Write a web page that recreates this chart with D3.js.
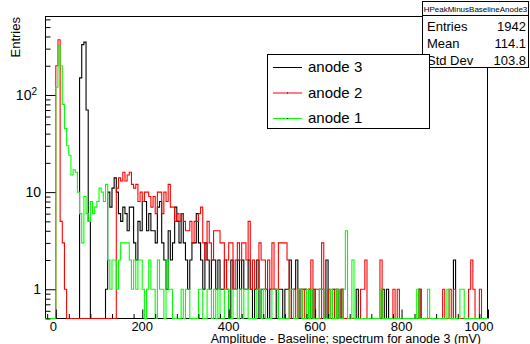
<!DOCTYPE html>
<html>
<head>
<meta charset="utf-8">
<script src="https://cdn.jsdelivr.net/npm/d3@7/dist/d3.min.js"></script>
<style>
  body { margin: 0; background: #fff; }
  svg { display: block; font-family: "Liberation Sans", Arial, Helvetica, sans-serif; }
</style>
</head>
<body>
<svg id="chart" width="530" height="344"></svg>
<script>
// histogram binning (mV)
const binLow = -25;
const binWidth = 5;

// counts per bin
const anode3 = [
  0,0,0,0,0,0,0,0,0,0,
  0,0,0,0,0,0,150,330,350,70,
  5,0,0,0,0,0,0,0,1,10,
  7,11,14,10,6,5,7,6,4,7,
  7,3,2,5,4,8,8,4,6,4,
  4,3,7,8,3,2,1,4,2,3,
  7,5,3,6,3,2,1,2,3,3,
  6,3,2,1,3,2,1,2,2,1,
  2,1,1,2,1,0,2,1,1,2,
  1,2,1,1,2,1,0,1,2,0,
  1,1,1,0,1,1,1,0,1,1,
  0,1,1,2,0,1,2,0,1,1,
  1,0,1,0,1,0,0,1,1,0,
  2,0,0,1,0,1,0,1,0,0,
  0,0,0,0,1,0,0,0,0,0,
  0,0,0,0,0,0,1,0,1,0,
  0,0,0,0,0,0,0,0,0,0,
  0,0,0,1,0,0,0,0,0,0,
  0,0,0,0,0,0,0,0,0,2,
  0,0,0,0,0,0,0,0,0,0,
  0,0,0,0,0
];
const anode2 = [
  0,0,0,0,0,200,370,5,3,1,
  0,0,0,0,0,0,0,0,0,0,
  0,0,0,0,0,0,0,0,0,0,
  0,0,0,11,14,13,16,13,15,16,
  12,11,12,8,10,8,10,10,9,7,
  9,6,10,10,6,10,8,12,7,7,
  5,6,5,6,5,4,4,5,3,5,
  5,6,7,3,2,5,3,2,4,4,
  4,3,3,1,2,3,3,1,2,3,
  2,3,3,2,5,1,2,1,1,3,
  2,2,1,2,1,3,1,1,3,3,
  3,3,2,0,1,1,0,1,1,0,
  1,0,1,2,0,1,1,0,3,0,
  0,1,0,0,1,0,0,1,0,0,
  0,0,0,0,0,0,1,1,2,0,
  0,0,0,0,0,2,0,0,0,0,
  0,1,0,1,0,0,0,0,0,0,
  0,0,0,1,0,0,0,0,0,0,
  0,0,0,0,1,0,0,1,0,1,
  0,0,0,0,0,0,1,2,1,0,
  0,1,0,0,0
];
const anode1 = [
  0,0,0,0,0,120,320,200,80,45,
  30,24,15,17,16,10,6,3,9,6,
  5,8,6,7,8,11,10,8,12,2,
  1,2,2,1,2,3,3,3,3,2,
  1,2,1,2,2,1,0,1,2,1,
  1,0,2,1,1,0,2,1,1,0,
  0,0,0,1,0,1,1,0,0,0,
  0,1,1,0,0,1,1,0,1,0,
  1,0,0,1,1,0,0,1,1,0,
  1,0,1,1,0,0,0,0,1,1,
  0,1,0,0,0,1,1,1,0,0,
  0,0,0,1,1,0,0,1,1,0,
  0,1,0,1,0,0,0,1,1,0,
  0,0,1,0,0,1,0,0,1,4,
  0,0,2,0,0,0,0,0,0,0,
  0,0,0,0,0,1,0,0,0,0,
  0,0,0,0,0,0,0,0,0,0,
  0,0,1,0,0,0,0,1,0,0,
  0,0,0,0,0,0,1,0,0,0,
  0,0,1,1,0,0,0,0,0,0,
  0,0,0,0,0
];

const seriesNames = ["anode 3", "anode 2", "anode 1"];
const seriesColors = ["#000000", "#ff0000", "#00ff00"];
const xMajorTicks = [0, 200, 400, 600, 800, 1000];
const yMajorTicks = [1, 10, 100];
const yTickLabels = ["1", "10", "10|2"];
const statsTitle = "HPeakMinusBaselineAnode3";
const statsLabels = ["Entries", "Mean", "Std Dev"];
const statsValues = ["1942", "114.1", "103.8"];
const xTitle = "Amplitude - Baseline; spectrum for anode 3 (mV)";
const yTitle = "Entries";

const svg = d3.select("#chart");
const frame = { left: 45, top: 16, right: 488, bottom: 318.5 };

const x = d3.scaleLinear()
  .domain([binLow, binLow + binWidth * anode3.length])
  .range([frame.left, frame.right]);
const y = d3.scaleLog()
  .domain([0.5, 650])
  .range([frame.bottom, frame.top]);

svg.append("defs").append("clipPath").attr("id", "clip")
  .append("rect")
  .attr("x", frame.left).attr("y", frame.top)
  .attr("width", frame.right - frame.left)
  .attr("height", frame.bottom - frame.top + 1);

// frame
svg.append("rect")
  .attr("x", frame.left + 0.5).attr("y", frame.top + 0.5)
  .attr("width", frame.right - frame.left - 1)
  .attr("height", frame.bottom - frame.top - 0.5)
  .attr("fill", "none").attr("stroke", "#000");

const stepLine = d3.line()
  .x(d => x(d[0]))
  .y(d => y(Math.max(d[1], 0.5)))
  .curve(d3.curveStepAfter);

function histPoints(counts) {
  const pts = counts.map((c, i) => [binLow + i * binWidth, c]);
  pts.push([binLow + counts.length * binWidth, counts[counts.length - 1]]);
  return pts;
}

const plot = svg.append("g").attr("clip-path", "url(#clip)");

function drawHist(counts, color) {
  plot.append("path")
    .attr("d", stepLine(histPoints(counts)))
    .attr("fill", "none")
    .attr("stroke", color)
    .attr("stroke-width", 1.1);
}

drawHist(anode3, seriesColors[0]);

// axes: ticks pointing into the frame
const xMinor = d3.range(-20, 1001, 50).filter(v => v % 200 !== 0);
const yMinor = [];
[0.1, 1, 10, 100].forEach(d => {
  for (let k = 2; k <= 9; k++) {
    const v = d * k;
    if (v >= 0.5 && v <= 650) yMinor.push(v);
  }
});

const xAxisMajor = svg.append("g")
  .attr("transform", `translate(0,${frame.bottom})`)
  .call(d3.axisBottom(x).tickValues(xMajorTicks).tickSize(-9).tickFormat(""));
const xAxisMinor = svg.append("g")
  .attr("transform", `translate(0,${frame.bottom})`)
  .call(d3.axisBottom(x).tickValues(xMinor).tickSize(-4.5).tickFormat(""));
const yAxisMajor = svg.append("g")
  .attr("transform", `translate(${frame.left + 0.5},0)`)
  .call(d3.axisLeft(y).tickValues(yMajorTicks).tickSize(-10).tickFormat(""));
const yAxisMinor = svg.append("g")
  .attr("transform", `translate(${frame.left + 0.5},0)`)
  .call(d3.axisLeft(y).tickValues(yMinor).tickSize(-5).tickFormat(""));
[xAxisMajor, xAxisMinor, yAxisMajor, yAxisMinor].forEach(g => {
  g.select(".domain").remove();
  g.selectAll("line").attr("stroke", "#000");
});

drawHist(anode2, seriesColors[1]);
drawHist(anode1, seriesColors[2]);

// tick labels
svg.append("g").selectAll("text")
  .data(xMajorTicks)
  .join("text")
  .attr("x", (d, i) => x(d) + (i === 0 ? -2.5 : (i === xMajorTicks.length - 1 ? -9 : 0)))
  .attr("y", 331)
  .attr("text-anchor", "middle")
  .attr("font-size", 13)
  .text(d => d);

const yLab = svg.append("g").selectAll("text")
  .data(yMajorTicks)
  .join("text")
  .attr("x", 41)
  .attr("y", d => y(d))
  .attr("dy", "0.36em")
  .attr("text-anchor", "end")
  .attr("font-size", 14);
yLab.each(function(d, i) {
  const parts = yTickLabels[i].split("|");
  const t = d3.select(this);
  t.append("tspan").text(parts[0]);
  if (parts[1]) {
    t.attr("x", 37);
    t.append("tspan").attr("dy", "-0.5em").attr("font-size", 10).text(parts[1]);
  }
});

// axis titles
svg.append("text")
  .attr("x", 481).attr("y", 343)
  .attr("text-anchor", "end")
  .attr("font-size", 12.5)
  .text(xTitle);

svg.append("text")
  .attr("transform", "translate(19.5,17) rotate(-90)")
  .attr("text-anchor", "end")
  .attr("font-size", 13)
  .text(yTitle);

// stats box
const stats = svg.append("g");
stats.append("rect")
  .attr("x", 422.5).attr("y", 1.5).attr("width", 106).attr("height", 66)
  .attr("fill", "#fff").attr("stroke", "#000");
stats.append("line")
  .attr("x1", 422.5).attr("x2", 528.5).attr("y1", 15.5).attr("y2", 15.5)
  .attr("stroke", "#000");
stats.append("text")
  .attr("x", 475.5).attr("y", 11.5)
  .attr("text-anchor", "middle")
  .attr("font-size", 8)
  .text(statsTitle);
statsLabels.forEach((lab, i) => {
  const yy = 30.5 + i * 17;
  stats.append("text").attr("x", 427).attr("y", yy)
    .attr("font-size", 13).text(lab);
  stats.append("text").attr("x", 526).attr("y", yy)
    .attr("text-anchor", "end").attr("font-size", 13).text(statsValues[i]);
});

// legend
const legend = svg.append("g");
legend.append("rect")
  .attr("x", 267.5).attr("y", 54.5).attr("width", 162).attr("height", 74)
  .attr("fill", "#fff").attr("stroke", "#000");
seriesNames.forEach((name, i) => {
  const yy = 67 + i * 25.5;
  legend.append("line")
    .attr("x1", 273).attr("x2", 302).attr("y1", yy + 0.5).attr("y2", yy + 0.5)
    .attr("stroke", seriesColors[i]);
  legend.append("rect")
    .attr("x", 287).attr("y", yy).attr("width", 1).attr("height", 1)
    .attr("fill", "#000");
  legend.append("text")
    .attr("x", 308).attr("y", yy).attr("dy", "0.36em")
    .attr("font-size", 15)
    .text(name);
});
</script>
</body>
</html>
